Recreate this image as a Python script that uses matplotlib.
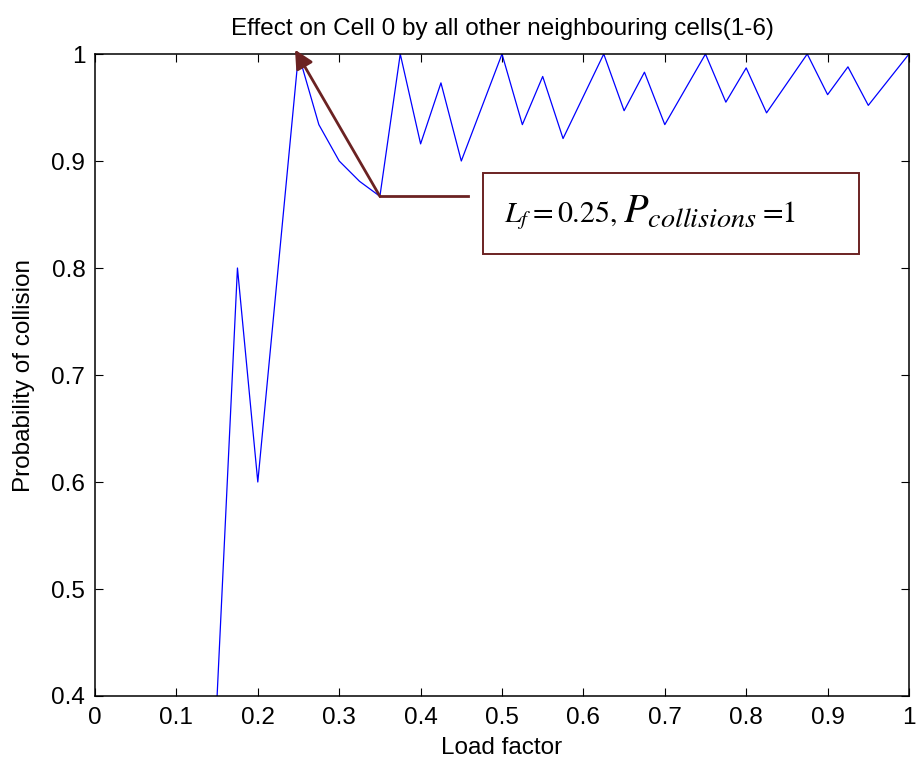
import numpy as np
import matplotlib.pyplot as plt
from matplotlib.patches import Rectangle
from matplotlib.offsetbox import TextArea, HPacker, AnnotationBbox

plt.rcParams['font.family'] = ['Liberation Sans', 'DejaVu Sans']
plt.rcParams['mathtext.fontset'] = 'stix'

# load factor vs probability of collision for cell 0
load = [0.125, 0.15, 0.175, 0.2, 0.25, 0.275, 0.3, 0.325, 0.35, 0.375, 0.4,
        0.425, 0.45, 0.5, 0.525, 0.55, 0.575, 0.625, 0.65, 0.675, 0.7, 0.75,
        0.775, 0.8, 0.825, 0.875, 0.9, 0.925, 0.95, 1.0]
p_coll = [0.0, 0.4, 0.8, 0.6, 1.0, 0.934, 0.9, 0.881, 0.867, 1.0, 0.916,
          0.973, 0.9, 1.0, 0.934, 0.979, 0.921, 1.0, 0.947, 0.983, 0.934, 1.0,
          0.955, 0.987, 0.945, 1.0, 0.962, 0.988, 0.952, 1.0]

xticks = np.arange(0, 1.01, 0.1)
yticks = np.arange(0.4, 1.01, 0.1)

brown = '#6b2222'

fig = plt.figure(figsize=(9.17, 7.64), dpi=100)
ax = fig.add_axes([95/917, 68/764, 814/917, 642/764])

ax.plot(load, p_coll, color='#0000ff', lw=0.9)

ax.set_xlim(0, 1)
ax.set_ylim(0.4, 1)
ax.set_xticks(xticks)
ax.set_yticks(yticks)
ax.set_xticklabels(['0', '0.1', '0.2', '0.3', '0.4', '0.5', '0.6', '0.7', '0.8', '0.9', '1'])
ax.set_yticklabels(['0.4', '0.5', '0.6', '0.7', '0.8', '0.9', '1'])
ax.tick_params(direction='in', top=True, right=True, length=5.5, width=0.8,
               labelsize=17.5)
ax.tick_params(axis='x', pad=8)
ax.tick_params(axis='y', pad=7)
for s in ax.spines.values():
    s.set_linewidth(1.1)

ax.set_title('Effect on Cell 0 by all other neighbouring cells(1-6)', fontsize=17.5, pad=14)
ax.set_xlabel('Load factor', fontsize=17.5, labelpad=6)
ax.set_ylabel('Probability of collision', fontsize=17.5, labelpad=12)

# annotation: arrow to the first peak plus a leader line to the text box
ax.annotate('', xy=(0.2457, 1.004), xytext=(0.35, 0.867),
            arrowprops=dict(arrowstyle='-|>', color=brown, lw=2.0,
                            mutation_scale=28, shrinkA=0, shrinkB=0),
            annotation_clip=False)
ax.plot([0.35, 0.458], [0.867, 0.867], color=brown, lw=2.0)

ax.add_patch(Rectangle((0.4767, 0.813), 0.4619, 0.0758, fill=False,
                       edgecolor=brown, lw=1.4))

t1 = TextArea(r'$L_f = 0.25,$', textprops=dict(fontsize=21.5))
t2 = TextArea(r'$P_{collisions}$', textprops=dict(fontsize=29))
t3 = TextArea('=1', textprops=dict(fontsize=21.5, family='STIXGeneral'))
label = HPacker(children=[t1, t2, t3], align='baseline', pad=0, sep=4)
ab = AnnotationBbox(label, (0.503, 0.852), xycoords='data',
                    box_alignment=(0, 0.5), frameon=False)
ax.add_artist(ab)

fig.savefig('out.png', dpi=100)
